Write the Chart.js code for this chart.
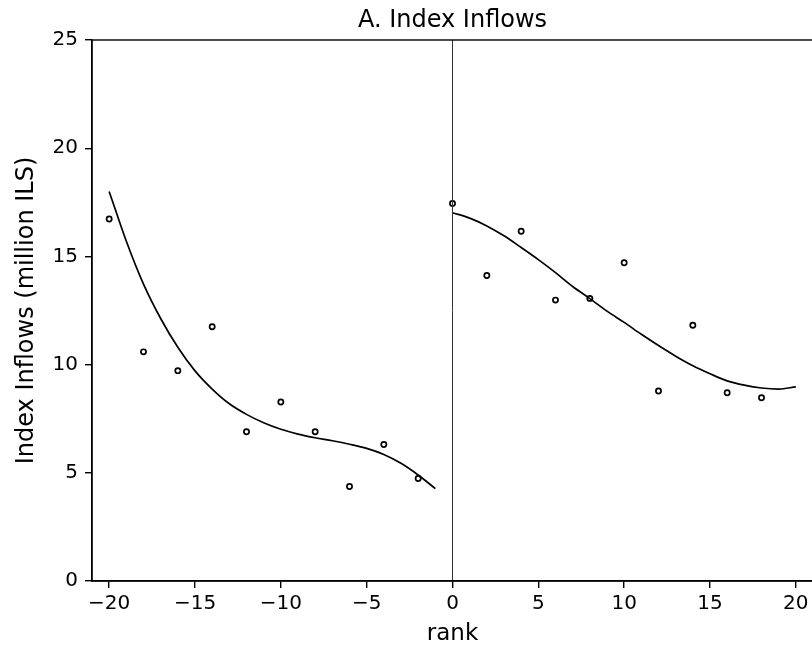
<!DOCTYPE html>
<html>
<head>
<meta charset="utf-8">
<script src="https://cdn.jsdelivr.net/npm/chart.js@4"></script>
<style>
  body { margin: 0; overflow: hidden; background: #fff; }
  #wrap { width: 830px; height: 650px; }
</style>
</head>
<body>
<div id="wrap"><canvas id="indexInflows" width="830" height="650"></canvas></div>
<script>
// Pontos observados (rank < 0)
const rankLeft = [-20, -18, -16, -14, -12, -10, -8, -6, -4, -2];
const inflowsLeft = [16.73, 10.59, 9.72, 11.75, 6.90, 8.27, 6.90, 4.37, 6.31, 4.74];

// Pontos observados (rank >= 0)
const rankRight = [0, 2, 4, 6, 8, 10, 12, 14, 16, 18];
const inflowsRight = [17.45, 14.12, 16.16, 12.98, 13.06, 14.71, 8.78, 11.82, 8.70, 8.47];

// Curvas ajustadas
const fitRankLeft = [-20, -19, -18, -17, -16, -15, -14, -13, -12, -11, -10, -9, -8, -7, -6, -5, -4, -3, -2, -1];
const fitLeft = [18.0, 15.7, 13.72, 12.13, 10.80, 9.71, 8.87, 8.19, 7.70, 7.31, 7.01, 6.79, 6.62, 6.48, 6.32, 6.13, 5.85, 5.44, 4.90, 4.27];

const fitRankRight = [0, 1, 2, 3, 4, 5, 6, 7, 8, 9, 10, 11, 12, 13, 14, 15, 16, 17, 18, 19, 20];
const fitRight = [17.02, 16.77, 16.41, 15.95, 15.41, 14.85, 14.25, 13.61, 13.05, 12.47, 11.95, 11.40, 10.88, 10.39, 9.95, 9.58, 9.25, 9.05, 8.92, 8.87, 8.97];

// Linha vertical em rank = 0
const cutoffRank = 0;

// Eixos
const xTicks = [-20, -15, -10, -5, 0, 5, 10, 15, 20];
const xRange = [-21, 21];
const yRange = [0, 25];

const toXY = (xs, ys) => xs.map((x, i) => ({ x: x, y: ys[i] }));
const fmt = (v) => String(v).replace('-', '\u2212');
const FONT = 'DejaVu Sans, sans-serif';

// Moldura do gráfico e título centrado na área de plotagem
const framePlugin = {
    id: 'frame',
    afterDraw(chart) {
        const { ctx, chartArea: a } = chart;
        ctx.save();
        ctx.strokeStyle = '#000';
        ctx.lineWidth = 1.4;
        ctx.strokeRect(a.left, a.top, a.right - a.left, a.bottom - a.top);
        ctx.fillStyle = '#000';
        ctx.font = '24px ' + FONT;
        ctx.textAlign = 'center';
        ctx.textBaseline = 'alphabetic';
        ctx.fillText('A. Index Inflows', (a.left + a.right) / 2, a.top - 13);
        ctx.restore();
    }
};

const scatterStyle = {
    showLine: false,
    pointRadius: 2.6,
    pointBorderWidth: 1.7,
    pointBackgroundColor: '#fff',
    pointBorderColor: '#000',
};

const curveStyle = {
    showLine: true,
    borderColor: '#000',
    borderWidth: 1.7,
    pointRadius: 0,
    cubicInterpolationMode: 'monotone',
    fill: false,
};

new Chart(document.getElementById('indexInflows').getContext('2d'), {
    type: 'scatter',
    data: {
        datasets: [
            {
                label: 'cutoff',
                data: toXY([cutoffRank, cutoffRank], yRange),
                showLine: true,
                borderColor: '#333',
                borderWidth: 1,
                pointRadius: 0,
            },
            Object.assign({ label: 'fit left', data: toXY(fitRankLeft, fitLeft) }, curveStyle),
            Object.assign({ label: 'fit right', data: toXY(fitRankRight, fitRight) }, curveStyle),
            Object.assign({ label: 'left', data: toXY(rankLeft, inflowsLeft) }, scatterStyle),
            Object.assign({ label: 'right', data: toXY(rankRight, inflowsRight) }, scatterStyle),
        ],
    },
    options: {
        responsive: false,
        animation: false,
        layout: { padding: { top: 40, right: 17, left: 0, bottom: 0 } },
        plugins: {
            legend: { display: false },
            tooltip: { enabled: false },
        },
        scales: {
            x: {
                type: 'linear',
                min: xRange[0],
                max: xRange[1],
                afterBuildTicks: (scale) => { scale.ticks = xTicks.map(v => ({ value: v })); },
                afterFit: (scale) => { scale.height = 69; },
                grid: { drawOnChartArea: false, tickLength: 7, color: '#000', lineWidth: 1.4 },
                border: { color: '#000', width: 1.4 },
                ticks: {
                    color: '#000',
                    padding: 4,
                    maxRotation: 0,
                    font: { size: 20, family: FONT },
                    callback: (v) => fmt(v),
                },
                title: {
                    display: true,
                    text: 'rank',
                    color: '#000',
                    padding: { top: 0, bottom: 2 },
                    font: { size: 23, family: FONT },
                },
            },
            y: {
                min: yRange[0],
                max: yRange[1],
                afterFit: (scale) => { scale.width = 92; },
                grid: { drawOnChartArea: false, tickLength: 7, color: '#000', lineWidth: 1.4 },
                border: { color: '#000', width: 1.4 },
                ticks: {
                    stepSize: 5,
                    color: '#000',
                    padding: 7,
                    font: { size: 20, family: FONT },
                },
                title: {
                    display: true,
                    text: 'Index Inflows (million ILS)',
                    color: '#000',
                    padding: { top: 12, bottom: 0 },
                    font: { size: 24, family: FONT },
                },
            },
        },
    },
    plugins: [framePlugin],
});
</script>
</body>
</html>
